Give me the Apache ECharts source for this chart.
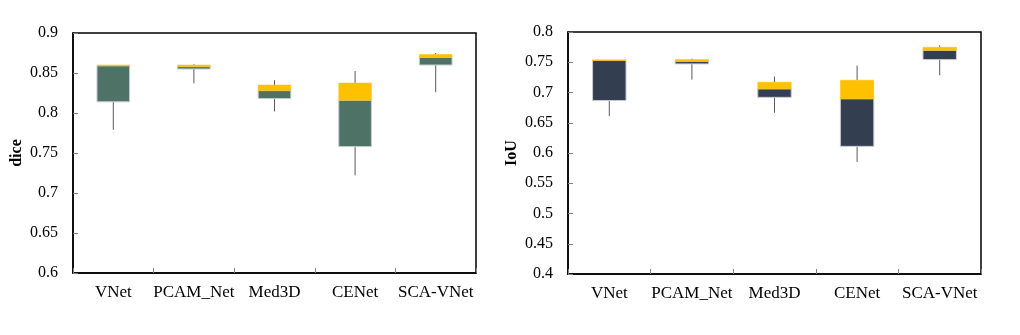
<!DOCTYPE html>
<html>
<head>
<meta charset="utf-8">
<script src="https://cdn.jsdelivr.net/npm/echarts@6/dist/echarts.min.js"></script>
<style>html,body{margin:0;padding:0;background:#fff;}#c{width:1020px;height:335px;}</style>
</head>
<body>
<div id="c"></div>
<script>
var categories = ['VNet', 'PCAM_Net', 'Med3D', 'CENet', 'SCA-VNet'];
// dice: [min, Q1, median, Q3, max]
var diceMin    = [0.779, 0.837, 0.802, 0.722, 0.826];
var diceQ1     = [0.814, 0.855, 0.818, 0.758, 0.860];
var diceMedian = [0.859, 0.858, 0.828, 0.816, 0.8696];
var diceQ3     = [0.860, 0.860, 0.835, 0.8375, 0.873];
var diceMax    = [0.860, 0.861, 0.841, 0.8525, 0.875];
// IoU
var iouMin    = [0.661, 0.7214, 0.6665, 0.5852, 0.7286];
var iouQ1     = [0.6868, 0.7473, 0.692, 0.611, 0.7544];
var iouMedian = [0.7530, 0.7516, 0.706, 0.6896, 0.7698];
var iouQ3     = [0.7540, 0.7544, 0.717, 0.7203, 0.7747];
var iouMax    = [0.7540, 0.756, 0.7264, 0.7445, 0.778];
var diceTicks = [0.6, 0.9, 0.05];
var iouTicks = [0.4, 0.8, 0.05];

var FONT = '"Liberation Serif", "Times New Roman", serif';

function rows(mn, q1, md, q3, mx) {
  return categories.map(function (c, i) { return [i, mn[i], q1[i], md[i], q3[i], mx[i]]; });
}

function boxSeries(idx, data, dark) {
  return {
    type: 'custom',
    xAxisIndex: idx, yAxisIndex: idx,
    data: data,
    encode: { x: 0, y: [1, 2, 3, 4, 5] },
    renderItem: function (params, api) {
      var x = api.value(0);
      var pMin = api.coord([x, api.value(1)]);
      var pQ1 = api.coord([x, api.value(2)]);
      var pMd = api.coord([x, api.value(3)]);
      var pQ3 = api.coord([x, api.value(4)]);
      var pMax = api.coord([x, api.value(5)]);
      var w = api.size([1, 0])[0] * 0.405;
      var cx = pQ1[0];
      var children = [];
      children.push({ type: 'line', shape: { x1: cx, y1: pMin[1], x2: cx, y2: pQ1[1] }, style: { stroke: '#595959', lineWidth: 1 } });
      if (pMax[1] < pQ3[1] - 0.5) {
        children.push({ type: 'line', shape: { x1: cx, y1: pQ3[1], x2: cx, y2: pMax[1] }, style: { stroke: '#595959', lineWidth: 1 } });
      }
      children.push({ type: 'rect', shape: { x: cx - w / 2, y: pMd[1], width: w, height: pQ1[1] - pMd[1] }, style: { fill: dark, stroke: '#c8ccd0', lineWidth: 1 } });
      children.push({ type: 'rect', shape: { x: cx - w / 2, y: pQ3[1], width: w, height: pMd[1] - pQ3[1] }, style: { fill: '#FFC000', stroke: '#FFC000', lineWidth: 0.5 } });
      return { type: 'group', children: children };
    }
  };
}

function yAxis(idx, t, name) {
  return {
    type: 'value', gridIndex: idx, min: t[0], max: t[1], interval: t[2],
    name: name, nameLocation: 'middle', nameGap: 48,
    nameTextStyle: { fontFamily: FONT, fontSize: 16, fontWeight: 'bold', color: '#000' },
    axisLine: { show: true, lineStyle: { color: '#000', width: 1.5 } },
    axisTick: { show: true, inside: true, length: 5, lineStyle: { color: '#7f7f7f' } },
    axisLabel: { fontFamily: FONT, fontSize: 16, color: '#000', margin: 15,
      formatter: function (v) { return String(+v.toFixed(2)); } },
    splitLine: { show: false }
  };
}
function xAxis(idx) {
  return {
    type: 'category', gridIndex: idx, data: categories, boundaryGap: true,
    axisLine: { show: true, lineStyle: { color: '#000', width: 1.5 } },
    axisTick: { show: true, inside: true, length: 5, alignWithLabel: false, lineStyle: { color: '#7f7f7f' } },
    axisLabel: { fontFamily: FONT, fontSize: 17, color: '#000', margin: 11, interval: 0 },
    splitLine: { show: false }
  };
}

var chart = echarts.init(document.getElementById('c'), null, { renderer: 'canvas' });
chart.setOption({
  animation: false,
  backgroundColor: '#fff',
  grid: [
    { left: 73, width: 403, top: 33, height: 240, show: true, borderColor: '#000', borderWidth: 1.5, backgroundColor: '#fff' },
    { left: 568, width: 413, top: 32, height: 242, show: true, borderColor: '#000', borderWidth: 1.5, backgroundColor: '#fff' }
  ],
  xAxis: [xAxis(0), xAxis(1)],
  yAxis: [yAxis(0, diceTicks, 'dice'), yAxis(1, iouTicks, 'IoU')],
  series: [
    boxSeries(0, rows(diceMin, diceQ1, diceMedian, diceQ3, diceMax), '#4E7266'),
    boxSeries(1, rows(iouMin, iouQ1, iouMedian, iouQ3, iouMax), '#333F50')
  ]
});
</script>
</body>
</html>
